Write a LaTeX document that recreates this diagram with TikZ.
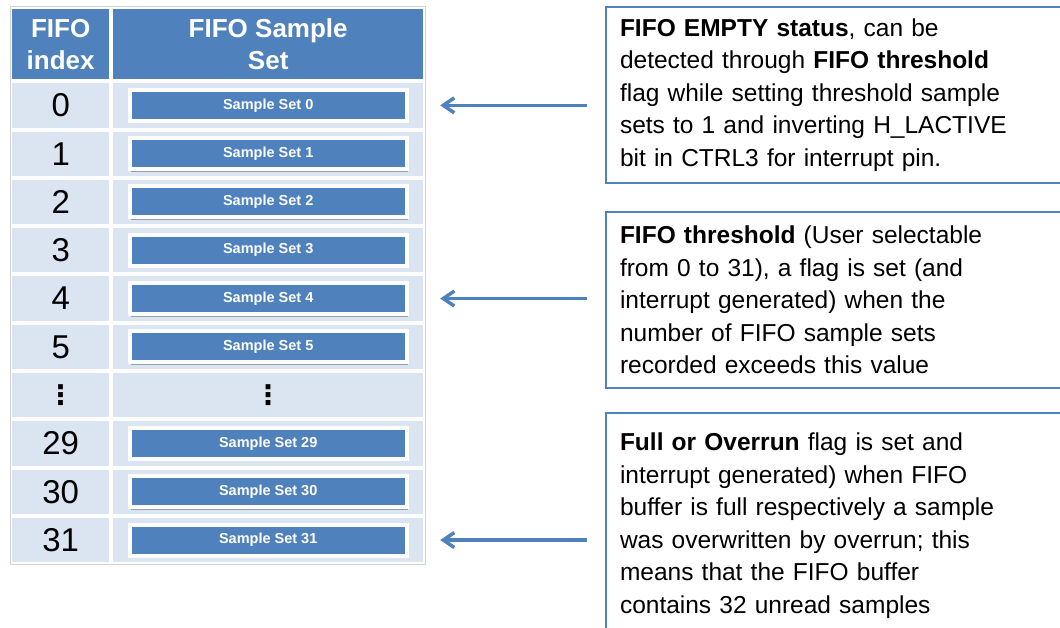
\documentclass[tikz,border=0pt]{standalone}
\usepackage{fontspec}
\setmainfont{Liberation Sans}
\newfontfamily\dotsfont{DejaVu Sans}
\usetikzlibrary{matrix,positioning,arrows.meta,shadows}
\definecolor{fifoblue}{HTML}{4F81BD}
\definecolor{fiforow}{HTML}{DBE5F1}
\tikzstyle{head} = [fill=fifoblue, draw=white, line width=2pt, text=white, align=center, minimum height=72pt, font=\fontsize{26}{32}\selectfont\bfseries]
\tikzstyle{cell} = [fill=fiforow, draw=white, line width=2pt, minimum height=46.3pt, font=\fontsize{33}{33}\selectfont]
\tikzstyle{narrow} = [minimum width=99pt]
\tikzstyle{wide} = [minimum width=312pt]
\tikzstyle{sample} = [fill=fifoblue, draw=white, line width=4pt, text=white, minimum width=277pt, minimum height=31pt, inner sep=0pt, font=\fontsize{14.5}{14.5}\selectfont\bfseries, drop shadow={shadow xshift=1pt, shadow yshift=-2.5pt, fill=black, opacity=0.3}]
\tikzstyle{note} = [draw=fifoblue, line width=2.5pt, fill=white, anchor=north west, outer sep=0pt, text width=440pt, inner xsep=14pt, align=left, minimum height=176pt, font=\fontsize{24.5}{32.5}\selectfont]
\tikzstyle{pointer} = [draw=fifoblue, line width=3.5pt, -{Straight Barb[length=11pt,width=15pt]}, shorten <=19pt, shorten >=16pt]

\begin{document}
\begin{tikzpicture}[x=1pt, y=-1pt]
	\clip (0,0) rectangle (1060,628);
	\matrix (fifo) [ row sep = 0pt, column sep = 0pt, inner sep = 0pt, anchor = north west, nodes = {outer sep = 0pt} ] at (10,7)
	{
	\node (HEAD_IDX) [head, narrow] {FIFO\\index}; &
	\node (HEAD_SET) [head, wide] {FIFO Sample\\Set}; \\
	\node (IDX_0) [cell, narrow] {0}; & \node (CELL_0) [cell, wide] {}; \\
	\node (IDX_1) [cell, narrow] {1}; & \node (CELL_1) [cell, wide] {}; \\
	\node (IDX_2) [cell, narrow] {2}; & \node (CELL_2) [cell, wide] {}; \\
	\node (IDX_3) [cell, narrow] {3}; & \node (CELL_3) [cell, wide] {}; \\
	\node (IDX_4) [cell, narrow] {4}; & \node (CELL_4) [cell, wide] {}; \\
	\node (IDX_5) [cell, narrow] {5}; & \node (CELL_5) [cell, wide] {}; \\
	\node (IDX_DOTS) [cell, narrow, font=\fontsize{27}{27}\dotsfont\bfseries] {⋮}; &
	\node (CELL_DOTS) [cell, wide, font=\fontsize{27}{27}\dotsfont\bfseries] {⋮}; \\
	\node (IDX_29) [cell, narrow] {29}; & \node (CELL_29) [cell, wide] {}; \\
	\node (IDX_30) [cell, narrow] {30}; & \node (CELL_30) [cell, wide] {}; \\
	\node (IDX_31) [cell, narrow] {31}; & \node (CELL_31) [cell, wide] {}; \\
	};
	\draw[gray!35, line width=1pt] (fifo.north west) rectangle (fifo.south east);

	\node (SET_0) [sample] at (CELL_0) {Sample Set 0};
	\node (SET_1) [sample] at (CELL_1) {Sample Set 1};
	\node (SET_2) [sample] at (CELL_2) {Sample Set 2};
	\node (SET_3) [sample] at (CELL_3) {Sample Set 3};
	\node (SET_4) [sample] at (CELL_4) {Sample Set 4};
	\node (SET_5) [sample] at (CELL_5) {Sample Set 5};
	\node (SET_29) [sample] at (CELL_29) {Sample Set 29};
	\node (SET_30) [sample] at (CELL_30) {Sample Set 30};
	\node (SET_31) [sample] at (CELL_31) {Sample Set 31};

	\node (NOTE_EMPTY) [note] at (606,7) {\textbf{FIFO EMPTY status}, can be\\
	detected through \textbf{FIFO threshold}\\
	flag while setting threshold sample\\
	sets to 1 and inverting H\_LACTIVE\\
	bit in CTRL3 for interrupt pin.};
	\node (NOTE_THRESH) [note] at (606,212) {\textbf{FIFO threshold} (User selectable\\
	from 0 to 31), a flag is set (and\\
	interrupt generated) when the\\
	number of FIFO sample sets\\
	recorded exceeds this value};
	\node (NOTE_FULL) [note, minimum height=225pt] at (606,413) {\textbf{Full or Overrun} flag is set and\\
	interrupt generated) when FIFO\\
	buffer is full respectively a sample\\
	was overwritten by overrun; this\\
	means that the FIFO buffer\\
	contains 32 unread samples};

	\draw[pointer](CELL_0.east -| NOTE_EMPTY.west)-{}(CELL_0.east);
	\draw[pointer](CELL_4.east -| NOTE_THRESH.west)-{}(CELL_4.east);
	\draw[pointer](CELL_31.east -| NOTE_FULL.west)-{}(CELL_31.east);
\end{tikzpicture}
\end{document}
